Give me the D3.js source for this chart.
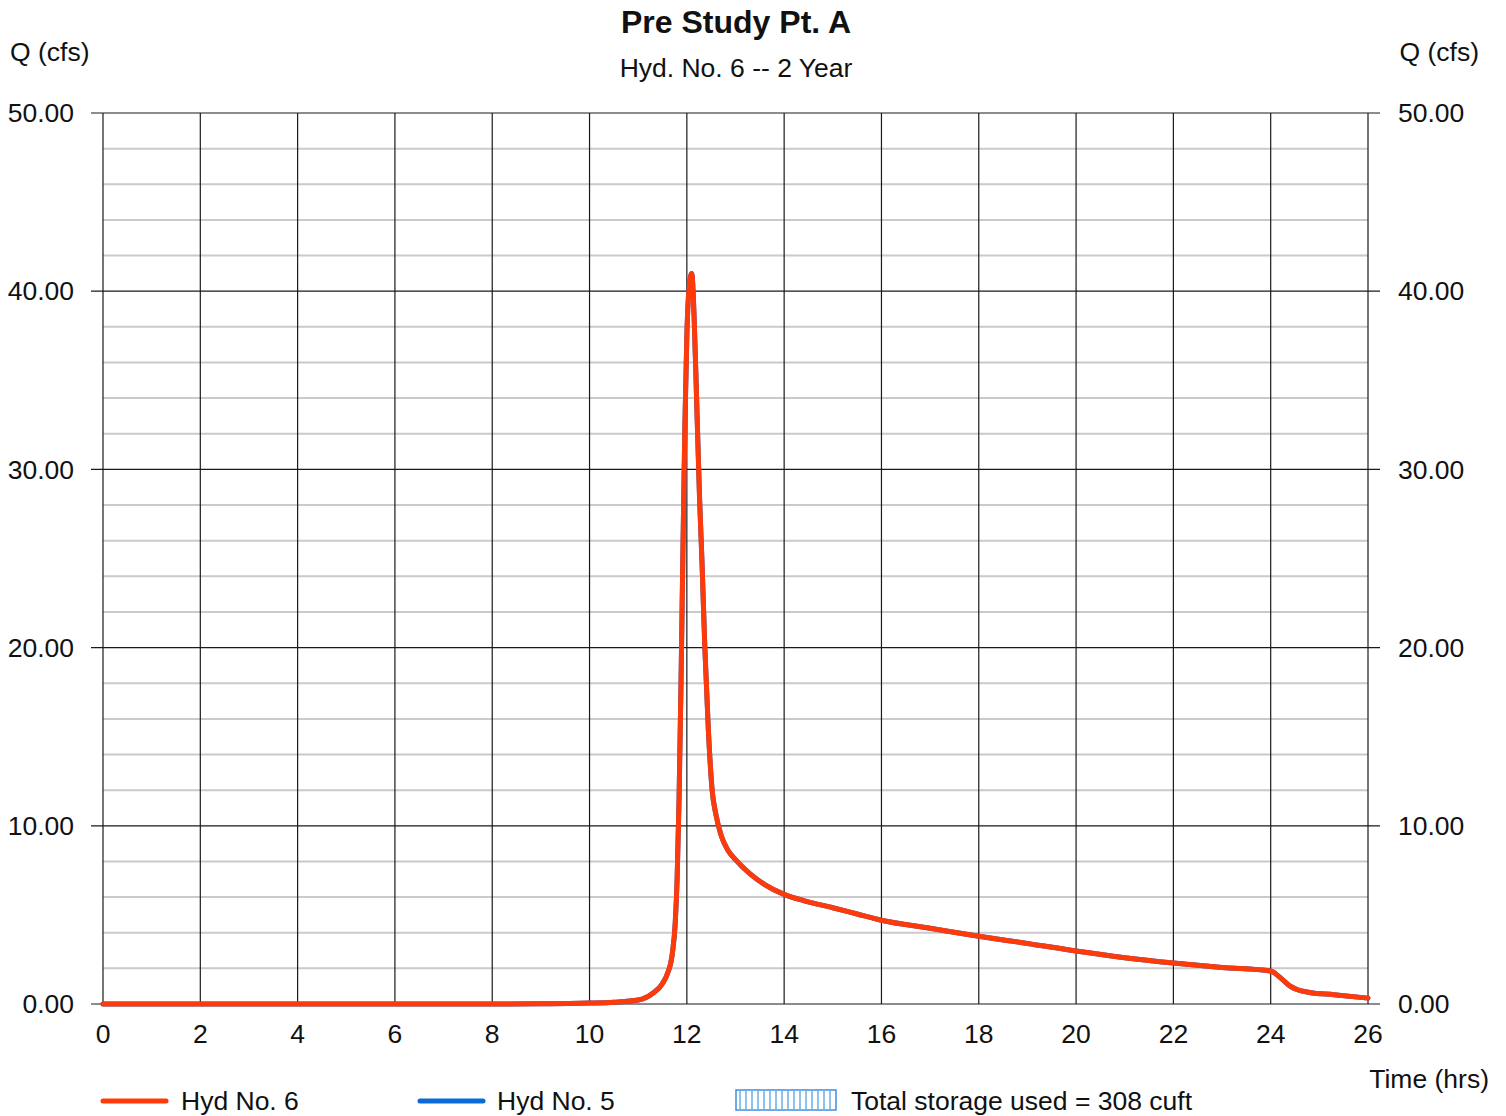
<!DOCTYPE html>
<html>
<head>
<meta charset="utf-8">
<script src="https://cdn.jsdelivr.net/npm/d3@7"></script>
<style>
  html, body { margin: 0; padding: 0; background: #fff; }
  svg { display: block; font-family: "Liberation Sans", Arial, sans-serif; }
</style>
</head>
<body>
<svg id="chart" width="1506" height="1116"></svg>
<script>
// Hydrograph ordinates: time (hrs) and discharge (cfs)
const timeHrs = [0, 2, 4, 6, 8, 9, 10, 10.5, 11, 11.3, 11.5, 11.6, 11.7, 11.76, 11.8, 11.84, 11.88, 11.92, 11.96, 12.0, 12.05, 12.1, 12.15, 12.2, 12.26, 12.31, 12.37, 12.44, 12.52, 12.6, 12.7, 12.85, 13.0, 13.3, 13.6, 14.0, 14.4, 15.0, 15.5, 16.0, 17.0, 18.0, 19.0, 20.0, 21.0, 22.0, 23.0, 24.0, 24.1, 24.25, 24.4, 24.55, 24.8, 25.3, 26.0];
const hyd6 = [0, 0, 0, 0, 0, 0.01, 0.05, 0.1, 0.22, 0.6, 1.15, 1.7, 2.8, 4.5, 7.0, 11.5, 18.0, 25.5, 32.5, 37.5, 40.3, 41.0, 38.5, 34.0, 28.5, 24.9, 20.0, 15.5, 12.0, 10.6, 9.5, 8.6, 8.1, 7.3, 6.7, 6.15, 5.8, 5.4, 5.05, 4.7, 4.25, 3.8, 3.4, 2.97, 2.6, 2.3, 2.05, 1.85, 1.7, 1.35, 1.0, 0.8, 0.65, 0.52, 0.33];
const hyd5 = hyd6.slice();

const xTicks = d3.range(0, 27, 2);
const yMajor = [0, 10, 20, 30, 40, 50];
const yMinor = d3.range(0, 51, 2).filter(v => v % 10 !== 0);

const titleText = "Pre Study Pt. A";
const subtitleText = "Hyd. No. 6 -- 2 Year";
const yLabel = "Q (cfs)";
const xLabel = "Time (hrs)";
const legendItems = ["Hyd No. 6", "Hyd No. 5", "Total storage used = 308 cuft"];

const m = { left: 103, right: 1368, top: 113, bottom: 1004 };

const svg = d3.select("#chart");
const x = d3.scaleLinear().domain([0, 26]).range([m.left, m.right]);
const y = d3.scaleLinear().domain([0, 50]).range([m.bottom, m.top]);

const red = "#ff3a0a", blue = "#0a6ad6";
const ink = "#111";
const fs = 26.5;

// minor horizontal grid (every 2 cfs)
svg.append("g").selectAll("line").data(yMinor).join("line")
  .attr("x1", m.left).attr("x2", m.right)
  .attr("y1", d => y(d)).attr("y2", d => y(d))
  .attr("stroke", "#cacaca").attr("stroke-width", 2);

// vertical grid every 2 hrs
svg.append("g").selectAll("line").data(xTicks).join("line")
  .attr("x1", d => x(d)).attr("x2", d => x(d))
  .attr("y1", m.top).attr("y2", m.bottom)
  .attr("stroke", "#1a1a1a").attr("stroke-width", 1.2);

// major horizontal grid, extended as ticks on both sides
svg.append("g").selectAll("line").data(yMajor).join("line")
  .attr("x1", m.left - 12).attr("x2", m.right + 12)
  .attr("y1", d => y(d)).attr("y2", d => y(d))
  .attr("stroke", "#1a1a1a").attr("stroke-width", 1.2);

// y axis labels (left & right)
svg.append("g").selectAll("text").data(yMajor).join("text")
  .attr("x", 74).attr("y", d => y(d)).attr("dy", "0.35em")
  .attr("text-anchor", "end").attr("font-size", fs).attr("fill", ink)
  .text(d => d.toFixed(2));
svg.append("g").selectAll("text").data(yMajor).join("text")
  .attr("x", 1398).attr("y", d => y(d)).attr("dy", "0.35em")
  .attr("text-anchor", "start").attr("font-size", fs).attr("fill", ink)
  .text(d => d.toFixed(2));

// x axis labels
svg.append("g").selectAll("text").data(xTicks).join("text")
  .attr("x", d => x(d)).attr("y", 1043)
  .attr("text-anchor", "middle").attr("font-size", fs).attr("fill", ink)
  .text(d => d);

// axis titles
svg.append("text").attr("x", 10).attr("y", 61).attr("font-size", fs).attr("fill", ink).text(yLabel);
svg.append("text").attr("x", 1479).attr("y", 61).attr("text-anchor", "end").attr("font-size", fs).attr("fill", ink).text(yLabel);
svg.append("text").attr("x", 1489).attr("y", 1088).attr("text-anchor", "end").attr("font-size", fs).attr("fill", ink).text(xLabel);

// titles
svg.append("text").attr("x", 736).attr("y", 33).attr("text-anchor", "middle")
  .attr("font-size", 32).attr("font-weight", "bold").attr("fill", ink).text(titleText);
svg.append("text").attr("x", 736).attr("y", 77).attr("text-anchor", "middle")
  .attr("font-size", fs).attr("fill", ink).text(subtitleText);

// hydrographs
const line = d3.line().x((d, i) => x(timeHrs[i])).y(d => y(d)).curve(d3.curveMonotoneX);
svg.append("path").datum(hyd5).attr("d", line)
  .attr("fill", "none").attr("stroke", blue).attr("stroke-width", 5)
  .attr("stroke-linejoin", "round").attr("stroke-linecap", "round");
svg.append("path").datum(hyd6).attr("d", line)
  .attr("fill", "none").attr("stroke", red).attr("stroke-width", 5)
  .attr("stroke-linejoin", "round").attr("stroke-linecap", "round");

// legend
const ly = 1101;
const leg = svg.append("g");
leg.append("line").attr("x1", 103).attr("x2", 166).attr("y1", ly).attr("y2", ly)
  .attr("stroke", red).attr("stroke-width", 5).attr("stroke-linecap", "round");
leg.append("text").attr("x", 181).attr("y", ly + 9).attr("font-size", fs).attr("fill", ink).text(legendItems[0]);
leg.append("line").attr("x1", 420).attr("x2", 483).attr("y1", ly).attr("y2", ly)
  .attr("stroke", blue).attr("stroke-width", 5).attr("stroke-linecap", "round");
leg.append("text").attr("x", 497).attr("y", ly + 9).attr("font-size", fs).attr("fill", ink).text(legendItems[1]);

// storage swatch: hatched box
const bx = 736, by = 1090, bw = 100, bh = 20;
leg.append("rect").attr("x", bx).attr("y", by).attr("width", bw).attr("height", bh)
  .attr("fill", "#fff").attr("stroke", "#3f8fe0").attr("stroke-width", 1.5);
leg.append("g").selectAll("line").data(d3.range(bx + 4, bx + bw, 6)).join("line")
  .attr("x1", d => d).attr("x2", d => d).attr("y1", by + 1).attr("y2", by + bh - 1)
  .attr("stroke", "#8ec3ef").attr("stroke-width", 2);
leg.append("text").attr("x", 851).attr("y", ly + 9).attr("font-size", fs).attr("fill", ink).text(legendItems[2]);
</script>
</body>
</html>
